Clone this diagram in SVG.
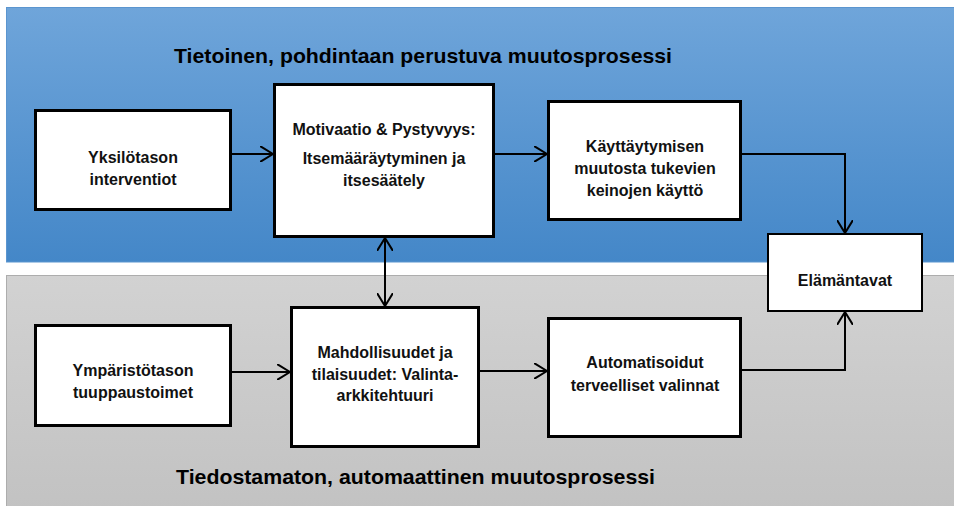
<svg xmlns="http://www.w3.org/2000/svg" width="954" height="506" viewBox="0 0 954 506">
<defs>
<linearGradient id="blue" x1="0" y1="0" x2="0" y2="1">
<stop offset="0" stop-color="#6fa5da"/>
<stop offset="1" stop-color="#4487c8"/>
</linearGradient>
<linearGradient id="gray" x1="0" y1="0" x2="0" y2="1">
<stop offset="0" stop-color="#d2d2d2"/>
<stop offset="1" stop-color="#c2c2c2"/>
</linearGradient>
<marker id="arr" viewBox="0 0 14 16" refX="13" refY="8" markerWidth="14" markerHeight="16" markerUnits="userSpaceOnUse" orient="auto-start-reverse">
<path d="M0,0 L13,8 L0,16" fill="none" stroke="#000" stroke-width="2"/>
</marker>
<style>
.box{fill:#fff;stroke:#000;stroke-width:3}
.t{font-family:"Liberation Sans",Arial,sans-serif;font-weight:bold;font-size:16px;fill:#111;text-anchor:middle}
.title{font-family:"Liberation Sans",Arial,sans-serif;font-weight:bold;font-size:21px;fill:#000}
.c{fill:none;stroke:#000;stroke-width:2;marker-end:url(#arr)}
</style>
</defs>
<rect x="0" y="0" width="954" height="506" fill="#fff"/>
<rect x="6.5" y="7.5" width="950" height="254.5" fill="url(#blue)" stroke="#5b95cf" stroke-width="1"/>
<rect x="6.5" y="275.5" width="950" height="235" fill="url(#gray)" stroke="#adadad" stroke-width="1"/>
<text class="title" x="174" y="63" textLength="498" lengthAdjust="spacingAndGlyphs">Tietoinen, pohdintaan perustuva muutosprosessi</text>
<text class="title" x="176" y="484" textLength="479" lengthAdjust="spacingAndGlyphs">Tiedostamaton, automaattinen muutosprosessi</text>
<g id="connectors">
<path class="c" d="M232,154 H273"/>
<path class="c" d="M495,154 H547"/>
<path class="c" d="M742,154 H845 V233"/>
<path class="c" d="M385,238 V306" style="marker-start:url(#arr)"/>
<path class="c" d="M232,372 H290"/>
<path class="c" d="M480,371 H547"/>
<path class="c" d="M742,370 H845 V312"/>
</g>
<g id="yksilotason">
<rect class="box" x="35.5" y="110.5" width="195" height="99"/>
<text class="t" x="133" y="163">Yksilötason</text>
<text class="t" x="133" y="185">interventiot</text>
</g>
<g id="motivaatio">
<rect class="box" x="274.5" y="84.5" width="219" height="152"/>
<text class="t" x="384" y="135">Motivaatio &amp; Pystyvyys:</text>
<text class="t" x="384" y="164">Itsemääräytyminen ja</text>
<text class="t" x="384" y="186">itsesäätely</text>
</g>
<g id="kayttaytymisen">
<rect class="box" x="548.5" y="101.5" width="192" height="118"/>
<text class="t" x="645" y="152">Käyttäytymisen</text>
<text class="t" x="645" y="174">muutosta tukevien</text>
<text class="t" x="645" y="196">keinojen käyttö</text>
</g>
<g id="elamantavat">
<rect x="768" y="234" width="154" height="77" fill="#fff" stroke="#000" stroke-width="2"/>
<text class="t" x="845" y="286">Elämäntavat</text>
</g>
<g id="ymparistotason">
<rect class="box" x="35.5" y="325.5" width="195" height="100"/>
<text class="t" x="133" y="376">Ympäristötason</text>
<text class="t" x="133" y="398">tuuppaustoimet</text>
</g>
<g id="mahdollisuudet">
<rect class="box" x="291.5" y="307.5" width="187" height="139"/>
<text class="t" x="385" y="358">Mahdollisuudet ja</text>
<text class="t" x="385" y="380">tilaisuudet: Valinta-</text>
<text class="t" x="385" y="401">arkkitehtuuri</text>
</g>
<g id="automatisoidut">
<rect class="box" x="548.5" y="318.5" width="192" height="118"/>
<text class="t" x="645" y="368">Automatisoidut</text>
<text class="t" x="645" y="391">terveelliset valinnat</text>
</g>
</svg>
